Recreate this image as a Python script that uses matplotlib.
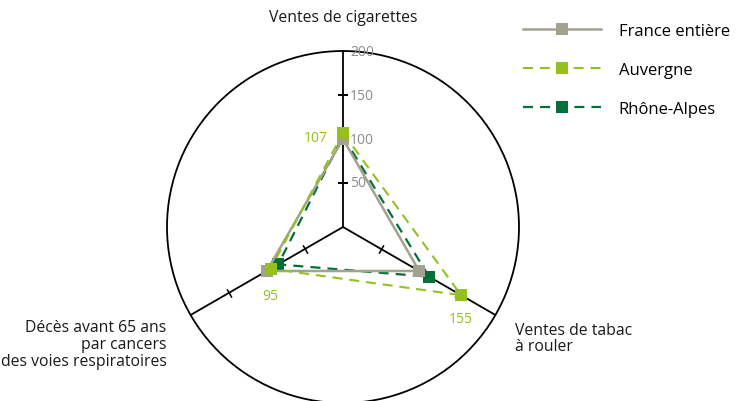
import numpy as np
import matplotlib.pyplot as plt

plt.rcParams['font.family'] = ['Open Sans', 'DejaVu Sans']

# data
axes_labels = ["Ventes de cigarettes", "Ventes de tabac\nà rouler",
               "Décès avant 65 ans\npar cancers\ndes voies respiratoires"]
france = [100, 100, 100]
auvergne = [107, 155, 95]
rhone_alpes = [103, 113, 85]
r_ticks = [50, 100, 150, 200]

c_grey = '#a3a18f'
c_light = '#95c11f'
c_dark = '#006f3a'

angles = np.deg2rad([0, 120, 240])
closed = np.append(angles, angles[0])

fig = plt.figure(figsize=(7.37, 4.02), dpi=100)
# centre ~ (343, 228) px, radius ~ 176 px
ax = fig.add_axes([167/737, -2/402, 352/737, 352/402], projection='polar')
ax.set_theta_zero_location('N')
ax.set_theta_direction(-1)
ax.set_ylim(0, 200)
ax.set_xticks([])
ax.set_yticks([])
ax.grid(False)
ax.spines['polar'].set_color('black')
ax.spines['polar'].set_linewidth(1.3)
ax.patch.set_alpha(0)

# axis spokes + small ticks
for th in angles:
    ax.plot([th, th], [0, 200], color='black', lw=1.3, zorder=1)
    phi = 90 - np.rad2deg(th)  # math angle of the spoke
    ax.plot([th]*3, r_ticks[:3], ls='none', marker=(2, 0, phi),
            ms=7, mec='black', mew=1.1, zorder=1)

for v in r_ticks:
    ax.annotate(str(v), xy=(0, v), xytext=(5, 0), textcoords='offset points',
                ha='left', va='center', color='#8c8c8c', fontsize=10)

def close(vals):
    return vals + vals[:1]

mk = dict(marker='s', ms=8, mew=0, solid_joinstyle='miter')
l_fr, = ax.plot(closed, close(france), color=c_grey, lw=1.8,
                label='France entière', zorder=3, **mk)
l_ra, = ax.plot(closed, close(rhone_alpes), color=c_dark, lw=1.6, ls=(0, (4.5, 3.2)),
                label='Rhône-Alpes', zorder=2, **mk)
l_au, = ax.plot(closed, close(auvergne), color=c_light, lw=1.5, ls=(0, (4.8, 3.3)),
                label='Auvergne', zorder=4, **mk)

# value labels for Auvergne
ax.annotate(str(auvergne[0]), xy=(angles[0], auvergne[0]), xytext=(-11, -3),
            textcoords='offset points', ha='right', va='center', color=c_light, fontsize=10)
ax.annotate(str(auvergne[1]), xy=(angles[1], auvergne[1]), xytext=(0, -17),
            textcoords='offset points', ha='center', va='center', color=c_light, fontsize=10)
ax.annotate(str(auvergne[2]), xy=(angles[2], auvergne[2]), xytext=(0, -19),
            textcoords='offset points', ha='center', va='center', color=c_light, fontsize=10)

# category labels
lbl = dict(textcoords='offset points', va='center', fontsize=11.3, color='#1a1a1a', linespacing=1.05)
ax.annotate(axes_labels[0], xy=(angles[0], 200), xytext=(0, 24.5), ha='center', **lbl)
ax.annotate(axes_labels[1], xy=(angles[1], 200), xytext=(14.4, -16.6), ha='left', **lbl)
ax.annotate(axes_labels[2], xy=(angles[2], 200), xytext=(-17.3, -20.9), ha='right',
            multialignment='right', **lbl)

fig.legend(handles=[l_fr, l_au, l_ra], loc='upper left',
           bbox_to_anchor=(508/737, 1 - 9/402), frameon=False, fontsize=12,
           handlelength=4.67, handletextpad=1.08, labelspacing=1.38, numpoints=1)

fig.savefig('out.png', dpi=100)
